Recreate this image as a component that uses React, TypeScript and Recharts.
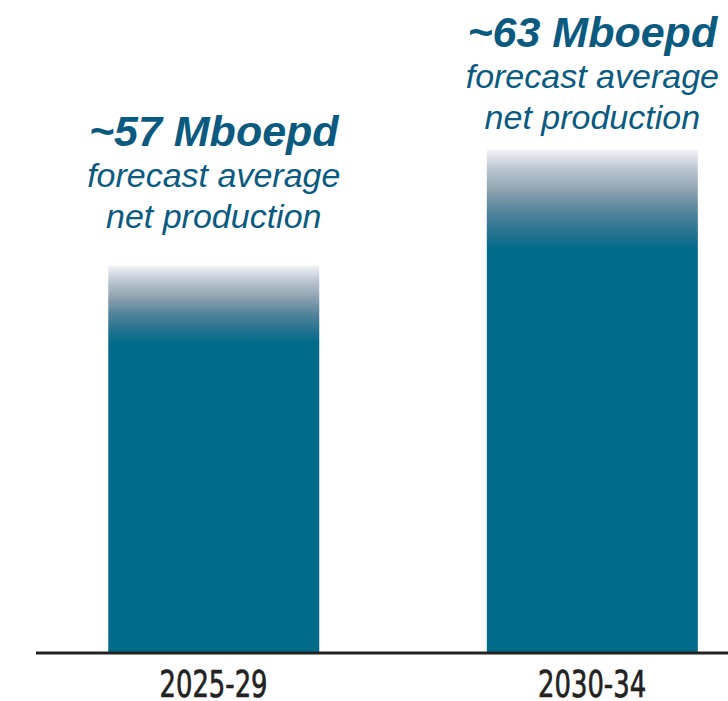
import { BarChart, Bar, XAxis, YAxis, LabelList } from 'recharts';

// forecast average net production, Mboepd
const periods = ['2025-29', '2030-34'];
const production = [57, 63];
const subtitle = ['forecast average', 'net production'];

const BAR = '#006b8a';
const TEXT = '#0a5a80';
const FADE = 0.2; // share of the bar height that fades in at the top
const fadeStops: [number, string][] = [
  [0, '#f0f2f6'],
  [0.21, '#b9c4ce'],
  [0.42, '#8aa0ae'],
  [0.64, '#4f8199'],
  [0.85, '#20718e'],
  [1, BAR],
];

const data = periods.map((period, i) => ({ pos: i + 1, period, value: production[i] }));

const FadedBar = (props: any) => {
  const { x, y, width, height } = props;
  return <rect x={x} y={y} width={width} height={height} fill="url(#barFade)" />;
};

const renderLabel = (props: any) => {
  const { x, y, width, height, value } = props;
  const cx = Number(x) + Number(width) / 2;
  // last line sits a little closer to the taller bar
  const base = Number(y) - 97 + 0.1525 * Number(height);
  const font = '"Liberation Sans", Arial, sans-serif';
  return (
    <g>
      <text x={cx} y={base - 82} textAnchor="middle" fill={TEXT} fontSize={43} fontWeight="bold" fontStyle="italic" fontFamily={font}>
        {`~${value} Mboepd`}
      </text>
      {subtitle.map((line, i) => (
        <text key={line} x={cx} y={base - 41 + i * 41} textAnchor="middle" fill={TEXT} fontSize={34} fontStyle="italic" fontFamily={font}>
          {line}
        </text>
      ))}
    </g>
  );
};

const PeriodTick = (props: any) => {
  const { x, y, payload } = props;
  const label = periods[payload.value - 1];
  return (
    <text
      x={x}
      y={y + 38}
      textAnchor="middle"
      fill="#222"
      stroke="#222"
      strokeWidth={0.7}
      fontSize={38}
      fontFamily='"DejaVu Sans Condensed", "Liberation Sans", sans-serif'
      textLength={108}
      lengthAdjust="spacingAndGlyphs"
    >
      {label}
    </text>
  );
};

export default function App() {
  return (
    <div style={{ width: 728, height: 701 }}>
      <style>{`body { margin: 0; }`}</style>
      <BarChart width={728} height={701} data={data} margin={{ top: 14, right: 0, left: 36, bottom: 0 }}>
        <defs>
          <linearGradient id="barFade" x1="0" y1="0" x2="0" y2="1">
            {fadeStops.map(([o, c]) => (
              <stop key={o} offset={o * FADE} stopColor={c} />
            ))}
          </linearGradient>
        </defs>
        <XAxis
          dataKey="pos"
          type="number"
          domain={[0.531, 2.359]}
          ticks={[1, 2]}
          interval={0}
          tickLine={false}
          axisLine={{ stroke: '#222', strokeWidth: 3 }}
          tick={<PeriodTick />}
          tickMargin={0}
          height={48}
        />
        <YAxis hide domain={[37, 70]} />
        <Bar dataKey="value" barSize={211} fill={BAR} shape={FadedBar} isAnimationActive={false}>
          <LabelList dataKey="value" content={renderLabel} />
        </Bar>
      </BarChart>
    </div>
  );
}
